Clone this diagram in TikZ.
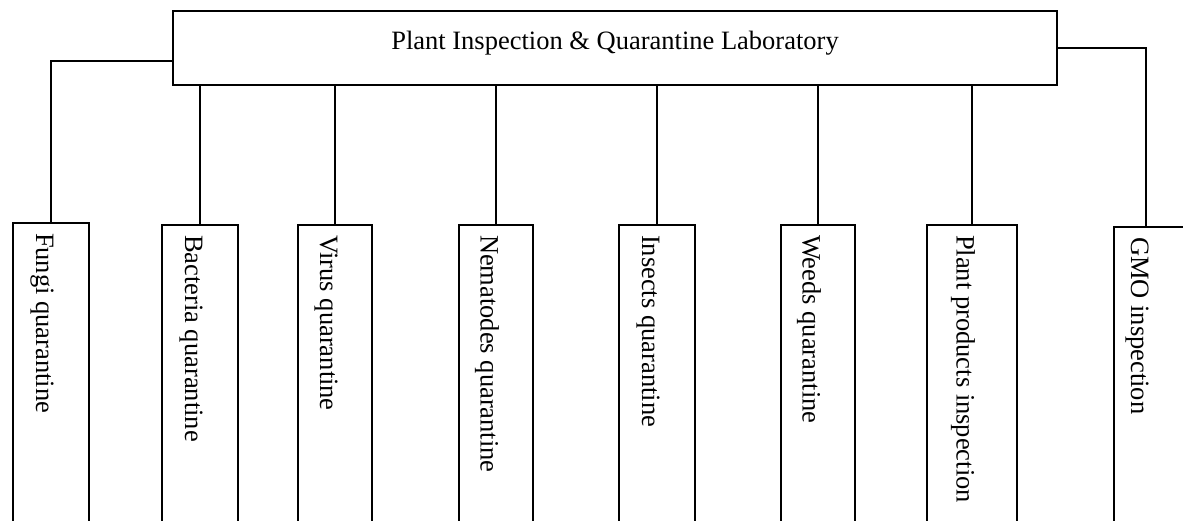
\documentclass[tikz,border=0pt]{standalone}
\usepackage{fontspec}
\setmainfont{Liberation Serif}
\usetikzlibrary{positioning}

\begin{document}
\begin{tikzpicture}[
            x=1pt, y=-1pt,
            line width=2pt,
            font=\fontsize{26.5}{32}\selectfont,
            head/.style={draw, minimum width=884pt, minimum height=74pt, inner sep=0pt, text depth=16pt},
            unit/.style={draw, anchor=north west, minimum height=340pt, inner sep=0pt},
            unitname/.style={rotate=-90, anchor=west, inner sep=0pt},
        ]
            \useasboundingbox (0,0) rectangle (1183,520);
            \clip (0,0) rectangle (1183,520);
            \node[head] (lab) at (615,48) {Plant Inspection \& Quarantine Laboratory};

            \node[unit, minimum width=76pt] (fungi) at (12,222) {};
            \node[unit, minimum width=76pt] (bacteria) at (161,224) {};
            \node[unit, minimum width=74pt] (virus) at (297,224) {};
            \node[unit, minimum width=74pt] (nematodes) at (458,224) {};
            \node[unit, minimum width=76pt] (insects) at (618,224) {};
            \node[unit, minimum width=74pt] (weeds) at (780,224) {};
            \node[unit, minimum width=90pt] (products) at (926,224) {};
            \node[unit, minimum width=80pt] (gmo) at (1113,226) {};

            \node[unitname] (fungi-name) at ([xshift=-9pt, yshift=-10pt]fungi.north) {Fungi quarantine};
            \node[unitname] (bacteria-name) at ([xshift=-9pt, yshift=-10pt]bacteria.north) {Bacteria quarantine};
            \node[unitname] (virus-name) at ([xshift=-9pt, yshift=-10pt]virus.north) {Virus quarantine};
            \node[unitname] (nematodes-name) at ([xshift=-9pt, yshift=-10pt]nematodes.north) {Nematodes quarantine};
            \node[unitname] (insects-name) at ([xshift=-9pt, yshift=-10pt]insects.north) {Insects quarantine};
            \node[unitname] (weeds-name) at ([xshift=-9pt, yshift=-10pt]weeds.north) {Weeds quarantine};
            \node[unitname] (products-name) at ([xshift=-9pt, yshift=-10pt]products.north) {Plant products inspection};
            \node[unitname] (gmo-name) at ([xshift=-17pt, yshift=-10pt]gmo.north) {GMO inspection};

            % side branches
            \draw ([yshift=-13pt]lab.west) -| (fungi.north);
            \draw (lab.east) -| ([xshift=-8pt]gmo.north);
            % branches from the bottom edge
            \draw (lab.south -| bacteria.north) -- (bacteria.north);
            \draw (lab.south -| virus.north) -- (virus.north);
            \draw (lab.south -| nematodes.north) -- (nematodes.north);
            \draw (lab.south -| insects.north) -- (insects.north);
            \draw (lab.south -| weeds.north) -- (weeds.north);
            \draw (lab.south -| products.north) -- (products.north);
        \end{tikzpicture}
\end{document}
